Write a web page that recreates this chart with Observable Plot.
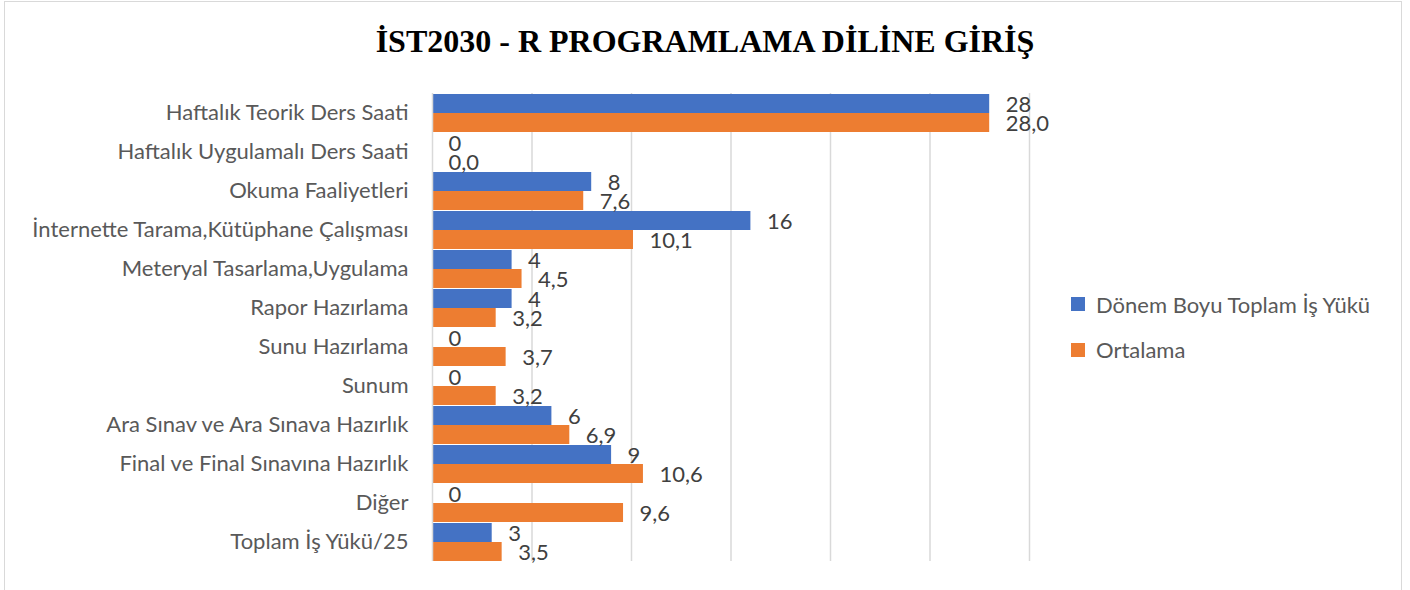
<!DOCTYPE html>
<html>
<head>
<meta charset="utf-8">
<script src="https://cdn.jsdelivr.net/npm/d3@7"></script>
<script src="https://cdn.jsdelivr.net/npm/@observablehq/plot@0.6"></script>
<style>
  html, body { margin: 0; padding: 0; background: #fff; }
  body { width: 1410px; height: 590px; overflow: hidden; position: relative; }
  #frame { position: absolute; left: 4px; top: 1px; width: 1398px; height: 640px; border: 1.5px solid #d9d9d9; box-sizing: border-box; }
  #title { position: relative; height: 80px; box-sizing: border-box; padding-top: 25px; text-align: center;
           font-family: "Liberation Serif", "Times New Roman", serif; font-weight: bold; font-size: 32px; line-height: 32px; color: #000; }
  #chart { position: relative; }
  #legend { position: absolute; left: 1071px; top: 290px; font-family: Lato, sans-serif; font-size: 22px; color: #595959; }
  .item { display: flex; align-items: center; height: 28px; margin-bottom: 17.5px; }
  .sw { width: 14px; height: 14px; margin-right: 11px; }
</style>
</head>
<body>
<div id="frame"></div>
<div id="title">İST2030 - R PROGRAMLAMA DİLİNE GİRİŞ</div>
<div id="chart"></div>
<div id="legend"></div>
<script>
const categories = [
  "Haftalık Teorik Ders Saati",
  "Haftalık Uygulamalı Ders Saati",
  "Okuma Faaliyetleri",
  "İnternette Tarama,Kütüphane Çalışması",
  "Meteryal Tasarlama,Uygulama",
  "Rapor Hazırlama",
  "Sunu Hazırlama",
  "Sunum",
  "Ara Sınav ve Ara Sınava Hazırlık",
  "Final ve Final Sınavına Hazırlık",
  "Diğer",
  "Toplam İş Yükü/25"
];
const seriesNames = ["Dönem Boyu Toplam İş Yükü", "Ortalama"];
const toplam = [28, 0, 8, 16, 4, 4, 0, 0, 6, 9, 0, 3];
const ortalama = [28.0, 0.0, 7.6, 10.1, 4.5, 3.2, 3.7, 3.2, 6.9, 10.6, 9.6, 3.5];
const colors = ["#4472C4", "#ED7D31"];
const gridTicks = [5, 10, 15, 20, 25, 30];

const rows = categories.flatMap((c, i) => [
  {category: c, series: seriesNames[0], value: toplam[i], label: String(toplam[i])},
  {category: c, series: seriesNames[1], value: ortalama[i], label: ortalama[i].toFixed(1).replace(".", ",")}
]);

const chart = Plot.plot({
  width: 1410,
  height: 510,
  marginLeft: 432,
  marginRight: 381,
  marginTop: 12,
  marginBottom: 28,
  x: {domain: [0, 30], axis: null},
  y: {domain: seriesNames, axis: null, padding: 0},
  fy: {domain: categories, padding: 0, axis: null},
  color: {domain: seriesNames, range: colors},
  style: {fontFamily: "Lato, sans-serif", fontSize: "22px", color: "#595959", background: "transparent"},
  marks: [
    Plot.ruleX(gridTicks, {stroke: "#d9d9d9", strokeWidth: 1.5}),
    Plot.barX(rows, {x: "value", y: "series", fy: "category", fill: "series"}),
    Plot.ruleX([0], {stroke: "#d9d9d9", strokeWidth: 1.5}),
    Plot.text(rows, {x: "value", y: "series", fy: "category", text: "label", dx: 16, dy: 1, textAnchor: "start", fill: "#404040", fontSize: 22}),
    Plot.axisFy({anchor: "left", tickSize: 0, tickPadding: 24, fill: "#595959", fontSize: 22, label: null})
  ]
});
document.getElementById("chart").appendChild(chart);

const legend = document.getElementById("legend");
seriesNames.forEach((s, i) => {
  const item = document.createElement("div");
  item.className = "item";
  const sw = document.createElement("div");
  sw.className = "sw";
  sw.style.background = colors[i];
  const t = document.createElement("span");
  t.textContent = s;
  item.appendChild(sw);
  item.appendChild(t);
  legend.appendChild(item);
});
</script>
</body>
</html>
